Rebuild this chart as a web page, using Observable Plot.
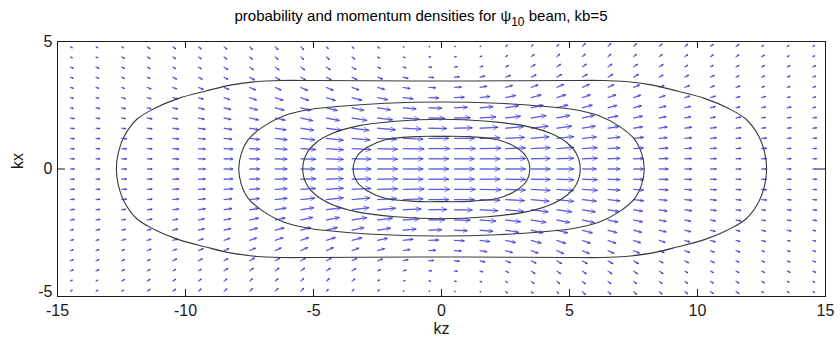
<!DOCTYPE html>
<html><head><meta charset="utf-8">
<script src="https://cdn.jsdelivr.net/npm/d3@7"></script>
<script src="https://cdn.jsdelivr.net/npm/@observablehq/plot@0.6"></script>
<style>body{margin:0;background:#fff;} svg{display:block;}</style>
</head><body><div id="chart"></div>
<script>
// axis tick values
const xTicks = [-15, -10, -5, 0, 5, 10, 15];
const yTicks = [-5, 0, 5];
const titleMain = "probability and momentum densities for ψ";
const titleSub = "10";
const titleEnd = " beam, kb=5";
const xLabel = "kz";
const yLabel = "kx";

// quiver grid (one quadrant, kz > 0, kx >= 0); the field is mirrored into the other quadrants
const gridX = [0.5, 1.5, 2.5, 3.5, 4.5, 5.5, 6.5, 7.5, 8.5, 9.5, 10.5, 11.5, 12.5, 13.5, 14.5];
const gridY = [0, 0.4, 0.8, 1.2, 1.6, 2.0, 2.4, 2.8, 3.2, 3.6, 4.0, 4.4, 4.8];
// momentum density, z component (rows follow gridY, columns follow gridX), arbitrary units
const jz = [
  [20,20,20,19,17,14,12,10,9,7,6,5,5,4,4],
  [20,20,20,19,17,15,12,10,9,7,6,5,5,4,4],
  [21,21,20,19,17,15,12,10,9,7,6,5,5,4,4],
  [20,20,19,18,17,14,12,10,8,7,6,5,5,4,4],
  [18,18,18,17,15,13,11,9,8,7,6,5,4,4,4],
  [16,16,15,15,13,12,10,9,7,6,5,5,4,4,4],
  [13,13,13,12,11,10,9,8,7,6,5,4,4,4,3],
  [10,10,10,10,9,8,8,7,6,5,5,4,4,3,3],
  [7,7,7,7,7,7,6,6,5,5,4,4,3,3,3],
  [5,5,5,5,5,5,5,5,4,4,4,3,3,3,3],
  [3,3,3,4,4,4,4,4,4,3,3,3,3,3,3],
  [2,2,2,3,3,3,3,3,3,3,3,3,3,2,2],
  [1,1,2,2,2,3,3,3,3,3,3,3,2,2,2]
];
// momentum density, x component (same layout)
const jx = [
  [0,0,0,0,0,0,0,0,0,0,0,0,0,0,0],
  [0,0,0.3,0.3,0.6,0.5,0.4,0.3,0.3,0.2,0.2,0.2,0.2,0.1,0.1],
  [0,0.4,0.7,1.0,1.2,1.0,0.8,0.7,0.6,0.5,0.4,0.3,0.3,0.2,0.2],
  [0,0.7,1.0,1.6,1.8,1.5,1.3,1.1,0.8,0.7,0.6,0.4,0.4,0.3,0.3],
  [0.3,0.9,1.6,2.1,2.1,2.1,1.7,1.4,1.3,1.0,0.8,0.6,0.5,0.4,0.4],
  [0.3,1.1,1.8,2.4,2.5,2.6,2.1,1.9,1.4,1.2,0.9,0.9,0.6,0.6,0.6],
  [0.5,1.1,2.1,2.6,2.7,2.7,2.4,2.1,1.7,1.5,1.2,0.9,0.9,0.8,0.6],
  [0.4,1.2,2.1,2.7,2.9,2.8,2.8,2.4,2.0,1.5,1.4,1.1,1.1,0.7,0.7],
  [0.4,1.2,2.0,2.5,3.0,3.1,2.7,2.5,2.0,1.9,1.5,1.4,1.0,0.9,0.9],
  [0.4,1.2,1.8,2.4,2.8,2.9,2.9,2.8,2.1,2.0,1.9,1.3,1.2,1.2,1.1],
  [0.3,0.9,1.5,2.5,2.8,2.9,2.9,2.8,2.6,1.8,1.7,1.6,1.5,1.4,1.3],
  [0.2,0.8,1.3,2.3,2.6,2.7,2.6,2.5,2.3,2.2,2.0,1.9,1.7,1.1,1.1],
  [0.2,0.5,1.6,1.9,2.1,3.2,3.1,3.0,2.7,2.5,2.3,2.2,1.3,1.3,1.2]
];
const arrowScale = 0.039; // quiver scale: kz units per unit of density

// probability-density contours, quadrant points [kz, kx] from the top (kz=0) to the right end (kx=0)
const contourA = [[0,1.28],[1.0,1.27],[2.2,1.15],[2.9,0.85],[3.3,0.5],[3.45,0]];
const contourB = [[0,1.95],[1.8,1.87],[3.3,1.68],[4.3,1.38],[4.9,1.03],[5.27,0.6],[5.42,0]];
const contourC = [[0,2.63],[2.2,2.58],[4.2,2.44],[5.1,2.34],[6.15,2.09],[6.95,1.67],[7.55,1.15],[7.82,0.6],[7.92,0]];
const contourD = [[0,3.45],[3,3.46],[5,3.47],[6.3,3.47],[7.2,3.43],[8.2,3.3],[9.2,3.06],[10.3,2.76],[11.2,2.38],[11.9,1.95],[12.4,1.27],[12.62,0.65],[12.7,0]];

// build the full field by mirror symmetry
const arrows = [];
gridY.forEach((gy, i) => {
  gridX.forEach((gx, j) => {
    for (const sx of [1, -1]) {
      for (const sy of (gy === 0 ? [1] : [1, -1])) {
        arrows.push({x: gx * sx, y: gy * sy, u: jz[i][j], v: jx[i][j] * sx * sy});
      }
    }
  });
});
function closeLoop(q, id) {
  const loop = [];
  q.forEach(p => loop.push({x: p[0], y: p[1], id}));
  q.slice(0, -1).reverse().forEach(p => loop.push({x: p[0], y: -p[1], id}));
  q.slice(1).forEach(p => loop.push({x: -p[0], y: -p[1], id}));
  q.slice(1, -1).reverse().forEach(p => loop.push({x: -p[0], y: p[1], id}));
  return loop;
}
const contours = [contourA, contourB, contourC, contourD].map((q, k) => closeLoop(q, k));

const ink = "#1a1a1a";
const fmt = d => String(d);
const chart = Plot.plot({
  width: 840, height: 350,
  marginLeft: 57, marginRight: 15, marginTop: 41, marginBottom: 54,
  style: {fontFamily: "'Liberation Sans', Arial, sans-serif", fontSize: "16px", background: "#fff", color: ink},
  x: {domain: [-15, 15]},
  y: {domain: [-5, 5]},
  marks: [
    Plot.link(arrows, {
      x1: "x", y1: "y",
      x2: d => d.x + d.u * arrowScale,
      y2: d => d.y + d.v * arrowScale,
      stroke: "#a4a4f2", strokeWidth: 1.4
    }),
    Plot.arrow(arrows, {
      x1: "x", y1: "y",
      x2: d => d.x + d.u * arrowScale,
      y2: d => d.y + d.v * arrowScale,
      stroke: "#2323d6", strokeWidth: 0.8, strokeOpacity: 0.75,
      headLength: 10, headAngle: 50
    }),
    ...contours.map(c => Plot.line(c, {x: "x", y: "y", curve: "catmull-rom-closed", stroke: "#3a3a3a", strokeWidth: 1.1})),
    Plot.frame({stroke: ink}),
    Plot.tickX(xTicks, {x: d => d, insetTop: 248, stroke: ink}),
    Plot.tickX(xTicks, {x: d => d, insetBottom: 248, stroke: ink}),
    Plot.tickY(yTicks, {y: d => d, insetRight: 760, stroke: ink}),
    Plot.tickY(yTicks, {y: d => d, insetLeft: 760, stroke: ink}),
    Plot.axisX(xTicks, {tickFormat: fmt, tickSize: 0, tickPadding: 8, label: null}),
    Plot.axisY(yTicks.filter(d => d > yTicks[0]), {tickFormat: fmt, tickSize: 0, tickPadding: 5, label: null}),
    Plot.axisY([yTicks[0]], {tickFormat: fmt, tickSize: 0, tickPadding: 5, dy: -5, label: null}),
    Plot.text([xLabel], {frameAnchor: "bottom", dy: 37, fontSize: 16, fill: ink}),
    Plot.text([yLabel], {frameAnchor: "left", dx: -40, rotate: -90, fontSize: 16, fill: ink})
  ]
});
document.getElementById("chart").appendChild(chart);

const svg = d3.select(chart);
const t = svg.append("text")
  .attr("x", 421).attr("y", 21)
  .attr("text-anchor", "middle")
  .attr("font-size", 15)
  .attr("fill", "#000");
t.append("tspan").text(titleMain);
t.append("tspan").attr("font-size", 12).attr("dy", 5).text(titleSub);
t.append("tspan").attr("dy", -5).text(titleEnd);
</script>
</body></html>
